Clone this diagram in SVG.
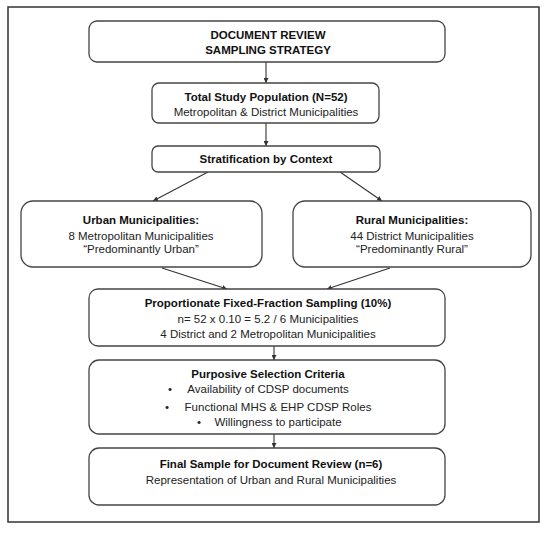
<svg xmlns="http://www.w3.org/2000/svg" width="550" height="533" viewBox="0 0 550 533">
<defs>
<marker id="ah" viewBox="0 0 10 10" refX="10" refY="5" markerWidth="5" markerHeight="5" orient="auto" markerUnits="userSpaceOnUse">
<path d="M0,0 L10,5 L0,10 z" fill="#333"/>
</marker>
<style>
.box{fill:#fff;stroke:#444;stroke-width:1.3}
.t{font-family:"Liberation Sans",Arial,sans-serif;font-size:11.5px;fill:#222;text-anchor:middle}
.b{font-weight:bold;fill:#111}
.c{stroke:#333;stroke-width:1.1;fill:none;marker-end:url(#ah)}
</style>
</defs>
<rect x="0" y="0" width="550" height="533" fill="#fff"/>
<rect x="8" y="7" width="531" height="515" fill="none" stroke="#333" stroke-width="1.5"/>
<g id="connectors">
<line class="c" x1="266" y1="62" x2="266" y2="83"/>
<line class="c" x1="266" y1="123" x2="266" y2="146"/>
<line class="c" x1="208" y1="172" x2="153" y2="201"/>
<line class="c" x1="340" y1="172" x2="382" y2="201"/>
<line class="c" x1="162" y1="268" x2="227" y2="289"/>
<line class="c" x1="390" y1="268" x2="327" y2="289"/>
<line class="c" x1="274" y1="346" x2="274" y2="360"/>
<line class="c" x1="274" y1="434" x2="274" y2="448"/>
</g>
<g id="title">
<rect class="box" x="89" y="21" width="356" height="41" rx="8"/>
<text class="t b" x="268" y="39">DOCUMENT REVIEW</text>
<text class="t b" x="268" y="54">SAMPLING  STRATEGY</text>
</g>
<g id="population">
<rect class="box" x="152" y="83" width="227" height="40" rx="7"/>
<text class="t b" x="266" y="101">Total Study Population (N=52)</text>
<text class="t" x="266" y="116">Metropolitan  &amp; District Municipalities</text>
</g>
<g id="stratification">
<rect class="box" x="152" y="146" width="228" height="26" rx="6"/>
<text class="t b" x="266" y="163">Stratification by Context</text>
</g>
<g id="urban">
<rect class="box" x="21" y="201" width="241" height="66" rx="12"/>
<text class="t b" x="141" y="224">Urban Municipalities:</text>
<text class="t" x="141" y="240">8 Metropolitan  Municipalities</text>
<text class="t" x="141" y="253">“Predominantly  Urban”</text>
</g>
<g id="rural">
<rect class="box" x="293" y="201" width="238" height="66" rx="12"/>
<text class="t b" x="412" y="224">Rural Municipalities:</text>
<text class="t" x="412" y="240">44 District Municipalities</text>
<text class="t" x="412" y="253">“Predominantly  Rural”</text>
</g>
<g id="proportionate">
<rect class="box" x="89" y="289" width="356" height="57" rx="9"/>
<text class="t b" x="268" y="307">Proportionate Fixed-Fraction Sampling (10%)</text>
<text class="t" x="268" y="323">n= 52 x 0.10 = 5.2 / 6 Municipalities</text>
<text class="t" x="268" y="338">4 District and 2 Metropolitan  Municipalities</text>
</g>
<g id="purposive">
<rect class="box" x="89" y="360" width="356" height="74" rx="10"/>
<text class="t b" x="268" y="378">Purposive Selection Criteria</text>
<text class="t" x="170" y="393">•</text>
<text class="t" x="268" y="393">Availability  of CDSP documents</text>
<text class="t" x="167" y="411">•</text>
<text class="t" x="278" y="411">Functional  MHS &amp; EHP CDSP Roles</text>
<text class="t" x="199" y="426">•</text>
<text class="t" x="278" y="426">Willingness  to participate</text>
</g>
<g id="final">
<rect class="box" x="89" y="448" width="356" height="57" rx="10"/>
<text class="t b" x="271" y="468">Final Sample for Document Review (n=6)</text>
<text class="t" x="271" y="484">Representation  of Urban and Rural Municipalities</text>
</g>
</svg>
